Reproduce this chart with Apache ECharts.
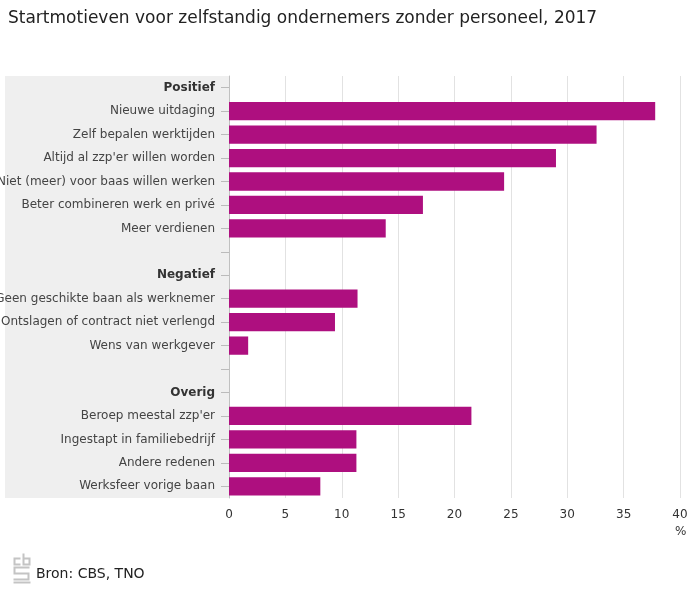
<!DOCTYPE html>
<html><head><meta charset="utf-8">
<script src="https://cdn.jsdelivr.net/npm/echarts@6/dist/echarts.min.js"></script>
<style>html,body{margin:0;padding:0;background:#fff}#c{width:700px;height:600px}</style>
</head><body><div id="c"></div>
<script>
var categories = ['Positief','Nieuwe uitdaging','Zelf bepalen werktijden','Altijd al zzp\'er willen worden','Niet (meer) voor baas willen werken','Beter combineren werk en privé','Meer verdienen','',
 'Negatief','Geen geschikte baan als werknemer','Ontslagen of contract niet verlengd','Wens van werkgever',' ',
 'Overig','Beroep meestal zzp\'er','Ingestapt in familiebedrijf','Andere redenen','Werksfeer vorige baan'];
var headers = ['Positief','Negatief','Overig'];
var values = [null,37.8,32.6,29.0,24.4,17.2,13.9,null,null,11.4,9.4,1.7,null,null,21.5,11.3,11.3,8.1];
var xTicks = {min:0,max:40,interval:5};
var chart = echarts.init(document.getElementById('c'));
var F = 'DejaVu Sans, Verdana, sans-serif';
var G = '#c4c4c4';
chart.setOption({
  animation:false,
  title:{text:'Startmotieven voor zelfstandig ondernemers zonder personeel, 2017',left:3,top:5,
    textStyle:{fontFamily:F,fontSize:17,fontWeight:'normal',color:'#222'}},
  graphic:[
    {type:'rect',z:-10,shape:{x:5,y:76,width:224,height:422},style:{fill:'#efefef'}},
    {type:'text',left:675,top:526,style:{text:'%',font:'12px DejaVu Sans',fill:'#333'}},
    {type:'text',left:36,top:567,style:{text:'Bron: CBS, TNO',font:'14px DejaVu Sans',fill:'#222'}},
    {type:'group',left:11,top:551,children:[
      {type:'polyline',shape:{points:[[7,5],[1,5],[1,11],[7,11]]},style:{fill:'none',stroke:G,lineWidth:2}},
      {type:'polyline',shape:{points:[[10,0],[10,11],[16,11],[16,5],[10,5]]},style:{fill:'none',stroke:G,lineWidth:2}},
      {type:'polyline',shape:{points:[[16,14],[1,14],[1,20],[15,20],[15,26],[0,26]]},style:{fill:'none',stroke:G,lineWidth:2}},
      {type:'rect',shape:{x:0,y:28,width:17,height:2},style:{fill:G}}
    ]}
  ],
  grid:{left:229,right:20,top:76,bottom:102,containLabel:false,outerBoundsMode:'none'},
  xAxis:{type:'value',min:xTicks.min,max:xTicks.max,interval:xTicks.interval,
    axisLine:{show:false},axisTick:{show:false},
    splitLine:{show:true,lineStyle:{color:'#e2e2e2'}},
    axisLabel:{fontFamily:F,fontSize:12,color:'#333',margin:11}},
  yAxis:{type:'category',data:categories,inverse:true,
    axisLine:{show:true,lineStyle:{color:'#c0c0c0'}},
    axisTick:{show:true,alignWithLabel:true,length:8,lineStyle:{color:'#bbbbbb'}},
    splitLine:{show:false},
    axisLabel:{margin:14,fontFamily:F,fontSize:12,color:'#444',
      formatter:function(v){return headers.indexOf(v)>=0?'{b|'+v+'}':v;},
      rich:{b:{fontWeight:'bold',fontFamily:F,fontSize:12,color:'#333'}}}},
  series:[{type:'bar',data:values,barCategoryGap:'22%',itemStyle:{color:'#ae0f7f'}}]
});
</script></body></html>
